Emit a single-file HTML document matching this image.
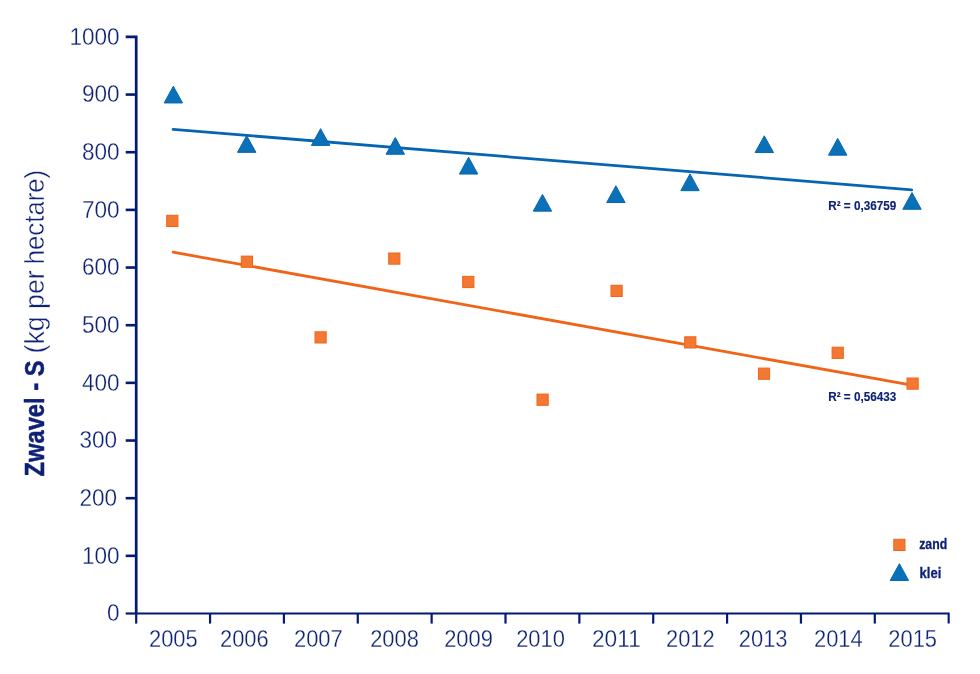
<!DOCTYPE html>
<html><head><meta charset="utf-8"><style>
html,body{margin:0;padding:0;background:#fff;width:980px;height:674px;overflow:hidden}
svg{display:block;will-change:transform}
text{font-family:"Liberation Sans",sans-serif;fill:#0d2176}
.lt{font-size:24.5px;stroke:#fff;stroke-width:0.3px}
.bd{font-size:13.4px;font-weight:bold;stroke:#0d2176;stroke-width:0.15px}
.lg{font-size:15.3px;font-weight:bold;stroke:#0d2176;stroke-width:0.3px}
.ttl{font-size:28px}
.tb{font-weight:bold;stroke:#0d2176;stroke-width:0.5px}
.tl{stroke:#fff;stroke-width:0.45px}
</style></head><body>
<svg width="980" height="674" viewBox="0 0 980 674">
<path d="M125.7 36.90 H136.2 V613.5" fill="none" stroke="#021a72" stroke-width="2.7"/>
<line x1="136.2" y1="613.5" x2="136.2" y2="623.6" stroke="#021a72" stroke-width="2.2"/>
<line x1="125.7" y1="555.84" x2="136.2" y2="555.84" stroke="#021a72" stroke-width="2.6"/>
<line x1="125.7" y1="498.18" x2="136.2" y2="498.18" stroke="#021a72" stroke-width="2.6"/>
<line x1="125.7" y1="440.52" x2="136.2" y2="440.52" stroke="#021a72" stroke-width="2.6"/>
<line x1="125.7" y1="382.86" x2="136.2" y2="382.86" stroke="#021a72" stroke-width="2.6"/>
<line x1="125.7" y1="325.20" x2="136.2" y2="325.20" stroke="#021a72" stroke-width="2.6"/>
<line x1="125.7" y1="267.54" x2="136.2" y2="267.54" stroke="#021a72" stroke-width="2.6"/>
<line x1="125.7" y1="209.88" x2="136.2" y2="209.88" stroke="#021a72" stroke-width="2.6"/>
<line x1="125.7" y1="152.22" x2="136.2" y2="152.22" stroke="#021a72" stroke-width="2.6"/>
<line x1="125.7" y1="94.56" x2="136.2" y2="94.56" stroke="#021a72" stroke-width="2.6"/>
<line x1="125.7" y1="613.5" x2="136.2" y2="613.5" stroke="#021a72" stroke-width="2.2"/>
<path d="M136.2 613.5 H948.66 V623.6" fill="none" stroke="#021a72" stroke-width="2.1"/>
<line x1="210.06" y1="613.5" x2="210.06" y2="623.6" stroke="#021a72" stroke-width="2.2"/>
<line x1="283.92" y1="613.5" x2="283.92" y2="623.6" stroke="#021a72" stroke-width="2.2"/>
<line x1="357.78" y1="613.5" x2="357.78" y2="623.6" stroke="#021a72" stroke-width="2.2"/>
<line x1="431.64" y1="613.5" x2="431.64" y2="623.6" stroke="#021a72" stroke-width="2.2"/>
<line x1="505.50" y1="613.5" x2="505.50" y2="623.6" stroke="#021a72" stroke-width="2.2"/>
<line x1="579.36" y1="613.5" x2="579.36" y2="623.6" stroke="#021a72" stroke-width="2.2"/>
<line x1="653.22" y1="613.5" x2="653.22" y2="623.6" stroke="#021a72" stroke-width="2.2"/>
<line x1="727.08" y1="613.5" x2="727.08" y2="623.6" stroke="#021a72" stroke-width="2.2"/>
<line x1="800.94" y1="613.5" x2="800.94" y2="623.6" stroke="#021a72" stroke-width="2.2"/>
<line x1="874.80" y1="613.5" x2="874.80" y2="623.6" stroke="#021a72" stroke-width="2.2"/>
<text x="107.05" y="621.20" class="lt" textLength="12.55" lengthAdjust="spacingAndGlyphs">0</text>
<text x="81.95" y="563.54" class="lt" textLength="37.65" lengthAdjust="spacingAndGlyphs">100</text>
<text x="79.45" y="505.88" class="lt" textLength="37.65" lengthAdjust="spacingAndGlyphs">200</text>
<text x="79.45" y="448.22" class="lt" textLength="37.65" lengthAdjust="spacingAndGlyphs">300</text>
<text x="81.95" y="390.56" class="lt" textLength="37.65" lengthAdjust="spacingAndGlyphs">400</text>
<text x="81.95" y="332.90" class="lt" textLength="37.65" lengthAdjust="spacingAndGlyphs">500</text>
<text x="81.95" y="275.24" class="lt" textLength="37.65" lengthAdjust="spacingAndGlyphs">600</text>
<text x="81.95" y="217.58" class="lt" textLength="37.65" lengthAdjust="spacingAndGlyphs">700</text>
<text x="81.95" y="159.92" class="lt" textLength="37.65" lengthAdjust="spacingAndGlyphs">800</text>
<text x="81.95" y="102.26" class="lt" textLength="37.65" lengthAdjust="spacingAndGlyphs">900</text>
<text x="69.40" y="44.60" class="lt" textLength="50.20" lengthAdjust="spacingAndGlyphs">1000</text>
<text x="148.94" y="647.2" class="lt" textLength="48.80" lengthAdjust="spacingAndGlyphs">2005</text>
<text x="219.96" y="647.2" class="lt" textLength="48.80" lengthAdjust="spacingAndGlyphs">2006</text>
<text x="293.96" y="647.2" class="lt" textLength="48.80" lengthAdjust="spacingAndGlyphs">2007</text>
<text x="370.16" y="647.2" class="lt" textLength="48.80" lengthAdjust="spacingAndGlyphs">2008</text>
<text x="444.16" y="647.2" class="lt" textLength="48.80" lengthAdjust="spacingAndGlyphs">2009</text>
<text x="516.14" y="647.2" class="lt" textLength="48.80" lengthAdjust="spacingAndGlyphs">2010</text>
<text x="591.98" y="647.2" class="lt" textLength="48.80" lengthAdjust="spacingAndGlyphs">2011</text>
<text x="665.98" y="647.2" class="lt" textLength="48.80" lengthAdjust="spacingAndGlyphs">2012</text>
<text x="738.75" y="647.2" class="lt" textLength="48.80" lengthAdjust="spacingAndGlyphs">2013</text>
<text x="813.98" y="647.2" class="lt" textLength="48.80" lengthAdjust="spacingAndGlyphs">2014</text>
<text x="888.29" y="647.2" class="lt" textLength="48.80" lengthAdjust="spacingAndGlyphs">2015</text>
<line x1="173.13" y1="252.2" x2="911.73" y2="385.2" stroke="#f06418" stroke-width="2.8" stroke-linecap="round"/>
<line x1="173.13" y1="129.4" x2="911.73" y2="189.8" stroke="#0565b2" stroke-width="2.8" stroke-linecap="round"/>
<rect x="166.70" y="215.30" width="11.20" height="11.20" fill="#f27834" stroke="#f06418" stroke-width="1"/>
<rect x="241.30" y="256.10" width="11.20" height="11.20" fill="#f27834" stroke="#f06418" stroke-width="1"/>
<rect x="315.00" y="331.80" width="11.20" height="11.20" fill="#f27834" stroke="#f06418" stroke-width="1"/>
<rect x="388.70" y="253.00" width="11.20" height="11.20" fill="#f27834" stroke="#f06418" stroke-width="1"/>
<rect x="462.70" y="276.40" width="11.20" height="11.20" fill="#f27834" stroke="#f06418" stroke-width="1"/>
<rect x="537.00" y="394.10" width="11.20" height="11.20" fill="#f27834" stroke="#f06418" stroke-width="1"/>
<rect x="611.00" y="285.30" width="11.20" height="11.20" fill="#f27834" stroke="#f06418" stroke-width="1"/>
<rect x="684.70" y="336.80" width="11.20" height="11.20" fill="#f27834" stroke="#f06418" stroke-width="1"/>
<rect x="758.40" y="368.10" width="11.20" height="11.20" fill="#f27834" stroke="#f06418" stroke-width="1"/>
<rect x="832.10" y="347.20" width="11.20" height="11.20" fill="#f27834" stroke="#f06418" stroke-width="1"/>
<rect x="907.00" y="378.00" width="11.20" height="11.20" fill="#f27834" stroke="#f06418" stroke-width="1"/>
<path d="M173.35 86.20 L182.55 102.95 L164.15 102.95 Z" fill="#0a70b8" stroke="#0565b2" stroke-width="1" stroke-linejoin="miter"/>
<path d="M246.70 135.60 L255.90 152.35 L237.50 152.35 Z" fill="#0a70b8" stroke="#0565b2" stroke-width="1" stroke-linejoin="miter"/>
<path d="M320.60 128.65 L329.80 145.40 L311.40 145.40 Z" fill="#0a70b8" stroke="#0565b2" stroke-width="1" stroke-linejoin="miter"/>
<path d="M395.30 137.50 L404.50 154.25 L386.10 154.25 Z" fill="#0a70b8" stroke="#0565b2" stroke-width="1" stroke-linejoin="miter"/>
<path d="M468.60 157.30 L477.80 174.05 L459.40 174.05 Z" fill="#0a70b8" stroke="#0565b2" stroke-width="1" stroke-linejoin="miter"/>
<path d="M542.46 194.40 L551.66 211.15 L533.26 211.15 Z" fill="#0a70b8" stroke="#0565b2" stroke-width="1" stroke-linejoin="miter"/>
<path d="M615.90 185.80 L625.10 202.55 L606.70 202.55 Z" fill="#0a70b8" stroke="#0565b2" stroke-width="1" stroke-linejoin="miter"/>
<path d="M690.00 173.90 L699.20 190.65 L680.80 190.65 Z" fill="#0a70b8" stroke="#0565b2" stroke-width="1" stroke-linejoin="miter"/>
<path d="M764.30 135.80 L773.50 152.55 L755.10 152.55 Z" fill="#0a70b8" stroke="#0565b2" stroke-width="1" stroke-linejoin="miter"/>
<path d="M837.70 138.40 L846.90 155.15 L828.50 155.15 Z" fill="#0a70b8" stroke="#0565b2" stroke-width="1" stroke-linejoin="miter"/>
<path d="M912.00 192.50 L921.20 209.25 L902.80 209.25 Z" fill="#0a70b8" stroke="#0565b2" stroke-width="1" stroke-linejoin="miter"/>
<text x="828.2" y="210.4" class="bd" textLength="68" lengthAdjust="spacingAndGlyphs">R² = 0,36759</text>
<text x="828.2" y="401.1" class="bd" textLength="68" lengthAdjust="spacingAndGlyphs">R² = 0,56433</text>
<rect x="893.80" y="539.30" width="11.20" height="11.20" fill="#f27834" stroke="#f06418" stroke-width="1"/>
<path d="M899.40 563.70 L908.60 580.45 L890.20 580.45 Z" fill="#0a70b8" stroke="#0565b2" stroke-width="1" stroke-linejoin="miter"/>
<text x="919.2" y="548.7" class="lg" textLength="28" lengthAdjust="spacingAndGlyphs">zand</text>
<text x="919.6" y="577.6" class="lg" textLength="21.8" lengthAdjust="spacingAndGlyphs">klei</text>
<g transform="translate(44.3 476.5) rotate(-90)"><text x="0" y="0" class="ttl"><tspan class="tb" textLength="116" lengthAdjust="spacingAndGlyphs">Zwavel - S</tspan></text><text x="123" y="0" class="ttl tl" textLength="83.2" lengthAdjust="spacingAndGlyphs">(kg per</text><text x="212.2" y="0" class="ttl tl" textLength="94.5" lengthAdjust="spacingAndGlyphs">hectare)</text></g>
</svg></body></html>
